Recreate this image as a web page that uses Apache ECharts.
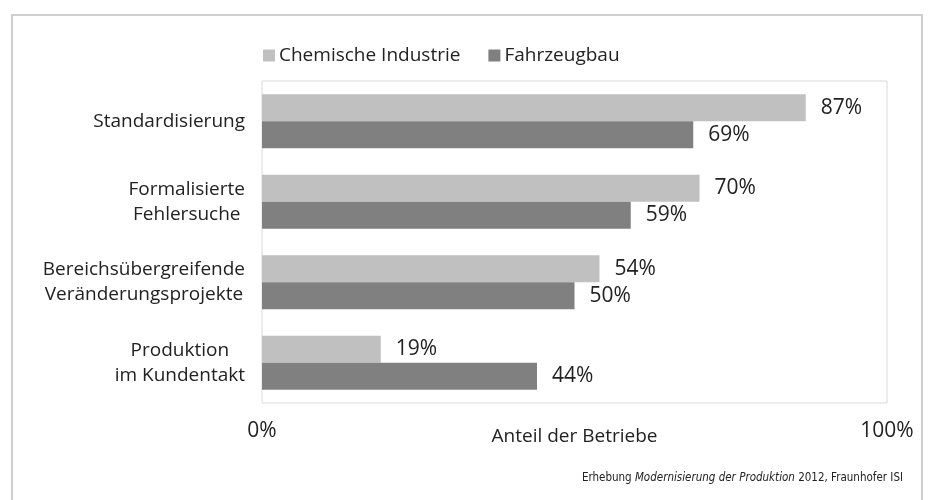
<!DOCTYPE html>
<html>
<head>
<meta charset="utf-8">
<script src="https://cdn.jsdelivr.net/npm/echarts@6/dist/echarts.min.js"></script>
<style>html,body{margin:0;padding:0;background:#fff;}#c{width:933px;height:500px;}</style>
</head>
<body>
<div id="c"></div>
<script>
const categories = ['Standardisierung', 'Formalisierte\nFehlersuche', 'Bereichsübergreifende\nVeränderungsprojekte', 'Produktion\nim Kundentakt'];
const seriesNames = ['Chemische Industrie', 'Fahrzeugbau'];
const chemie = [87, 70, 54, 19];
const fahrzeug = [69, 59, 50, 44];
const xTicks = [0, 100];
const axisName = 'Anteil der Betriebe';
const FONT = '"Open Sans", "Noto Sans", sans-serif';
const NARROW = '"Liberation Sans Narrow", "DejaVu Sans Condensed", sans-serif';
const TXT = '#222222';

const chart = echarts.init(document.getElementById('c'));
chart.setOption({
  animation: false,
  backgroundColor: '#fff',
  textStyle: { fontFamily: FONT },
  graphic: [{
    type: 'rect', silent: true, z: -10,
    shape: { x: 12, y: 15, width: 910, height: 500 },
    style: { fill: 'none', stroke: '#cfcfcf', lineWidth: 2 }
  }],
  title: {
    text: '{n|Erhebung }{i|Modernisierung der Produktion}{n| 2012, Fraunhofer ISI}',
    right: 25, top: 467,
    textStyle: {
      fontWeight: 'normal',
      rich: {
        n: { fontSize: 11.5, fontWeight: 'normal', color: TXT, fontFamily: NARROW },
        i: { fontSize: 11.5, fontWeight: 'normal', color: TXT, fontStyle: 'italic', fontFamily: NARROW }
      }
    }
  },
  legend: {
    data: seriesNames,
    left: 258, top: 41,
    itemWidth: 12, itemHeight: 12, itemGap: 28,
    icon: 'rect',
    textStyle: { fontSize: 19, color: TXT, fontFamily: FONT, padding: [0, 0, 0, -1] }
  },
  grid: {
    left: 262, right: 46, top: 81, bottom: 97,
    show: true, borderColor: '#d9d9d9', borderWidth: 1, containLabel: false
  },
  xAxis: {
    type: 'value', min: xTicks[0], max: xTicks[1], interval: xTicks[1] - xTicks[0],
    axisLine: { show: false }, axisTick: { show: false }, splitLine: { show: false },
    axisLabel: { formatter: '{value}%', margin: 18, fontSize: 21, color: TXT, fontFamily: FONT },
    name: axisName, nameLocation: 'middle', nameGap: 24, nameMoveOverlap: false,
    nameTextStyle: { fontSize: 19, color: TXT, fontFamily: FONT }
  },
  yAxis: {
    type: 'category', data: categories, inverse: true,
    axisLine: { show: false }, axisTick: { show: false },
    axisLabel: {
      margin: 17,
      formatter: function (v) { return v.split('\n').map(function (l) { return '{c|' + l + '}'; }).join('\n'); },
      rich: { c: { align: 'center', fontSize: 19, lineHeight: 25, color: TXT, fontFamily: FONT } }
    }
  },
  series: [
    {
      name: seriesNames[0], type: 'bar', data: chemie, barWidth: 27, barGap: '0%',
      itemStyle: { color: '#c0c0c0' },
      label: { show: true, position: 'right', distance: 15, formatter: '{c}%', fontSize: 21, color: TXT, fontFamily: FONT }
    },
    {
      name: seriesNames[1], type: 'bar', data: fahrzeug, barWidth: 27, barGap: '0%',
      itemStyle: { color: '#808080' },
      label: { show: true, position: 'right', distance: 15, formatter: '{c}%', fontSize: 21, color: TXT, fontFamily: FONT }
    }
  ]
});
</script>
</body>
</html>
